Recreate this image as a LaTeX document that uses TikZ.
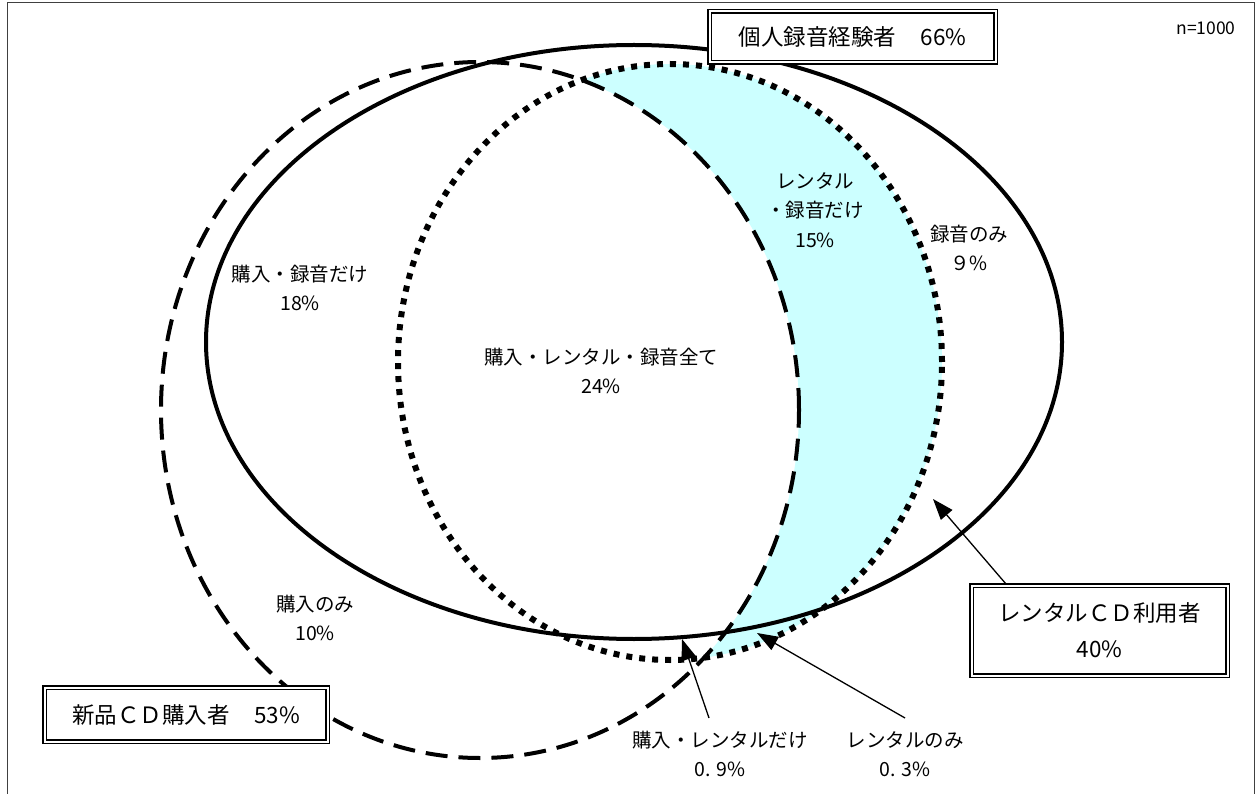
\documentclass[tikz,border=0pt]{standalone}
\usepackage{fontspec}
\setmainfont{Noto Sans CJK JP}
\usetikzlibrary{arrows.meta}
\definecolor{rentfill}{HTML}{CCFFFF}
\begin{document}
\begin{tikzpicture}[x=1pt,y=-1pt,
  lbl/.style={align=center, font=\fontsize{19.5}{29.5}\selectfont, inner sep=0pt},
  ttl/.style={draw, double=white, line width=1.5pt, double distance=2pt, fill=white,
              font=\fontsize{22.5}{36}\selectfont, align=center, inner sep=0pt},
  ptr/.style={line width=1.3pt, -{Triangle[length=21pt,width=15pt]}},
  recset/.style={line width=4pt},
  buyset/.style={line width=4pt, dash pattern=on 22pt off 11pt},
  rentset/.style={line width=6pt, dash pattern=on 6pt off 7pt}
]
\useasboundingbox (0,0) rectangle (1256,794);
\fill[white] (0,0) rectangle (1256,794);
\draw[line width=1.5pt, black!75] (7.5,2.5) rectangle (1254.5,797);

% shaded region: rental users who did not buy
\begin{scope}
  \clip (670,362) ellipse [x radius=272pt, y radius=298pt];
  \fill[rentfill, even odd rule] (670,362) ellipse [x radius=272pt, y radius=298pt]
                                 (480,410) ellipse [x radius=319pt, y radius=348pt];
\end{scope}

% sets
\draw[recset]  (634,342) ellipse [x radius=428pt, y radius=297pt];
\draw[buyset]  (480,410) ellipse [x radius=319pt, y radius=348pt];
\draw[rentset] (670,362) ellipse [x radius=272pt, y radius=298pt];

% title boxes
\node[ttl, minimum width=286pt, minimum height=51pt] (rec) at (852.5,37) {個人録音経験者\hspace{1.1em}66\%};
\node[ttl, minimum width=283pt, minimum height=54pt] (buy) at (186,714.5) {新品ＣＤ購入者\hspace{1.1em}53\%};
\node[ttl, minimum width=256pt, minimum height=90pt] (rent) at (1099.5,630.5) {レンタルＣＤ利用者\\40\%};

\node[font=\fontsize{17.5}{20}\selectfont, inner sep=0pt] (n) at (1206,28) {n=1000};

% region labels
\node[lbl] (l1) at (300,288) {購入・録音だけ\\18\%};
\node[lbl] (l2) at (601,371) {購入・レンタル・録音全て\\24\%};
\node[lbl] (l3) at (815,210) {レンタル\\・録音だけ\\15\%};
\node[lbl] (l4) at (969,248) {録音のみ\\９\%};
\node[lbl] (l5) at (315,618) {購入のみ\\10\%};
\node[lbl] (l6) at (720,754) {購入・レンタルだけ\\0. 9\%};
\node[lbl] (l7) at (905,754) {レンタルのみ\\0. 3\%};

% pointers
\coordinate (p1s) at (1006,584);
\coordinate (p1e) at (933,499);
\coordinate (p2s) at (709,718);
\coordinate (p2e) at (682,639);
\coordinate (p3s) at (905,718);
\coordinate (p3e) at (757,633);
\draw[ptr] (p1s) -- (p1e);
\draw[ptr] (p2s) -- (p2e);
\draw[ptr] (p3s) -- (p3e);
\end{tikzpicture}
\end{document}
